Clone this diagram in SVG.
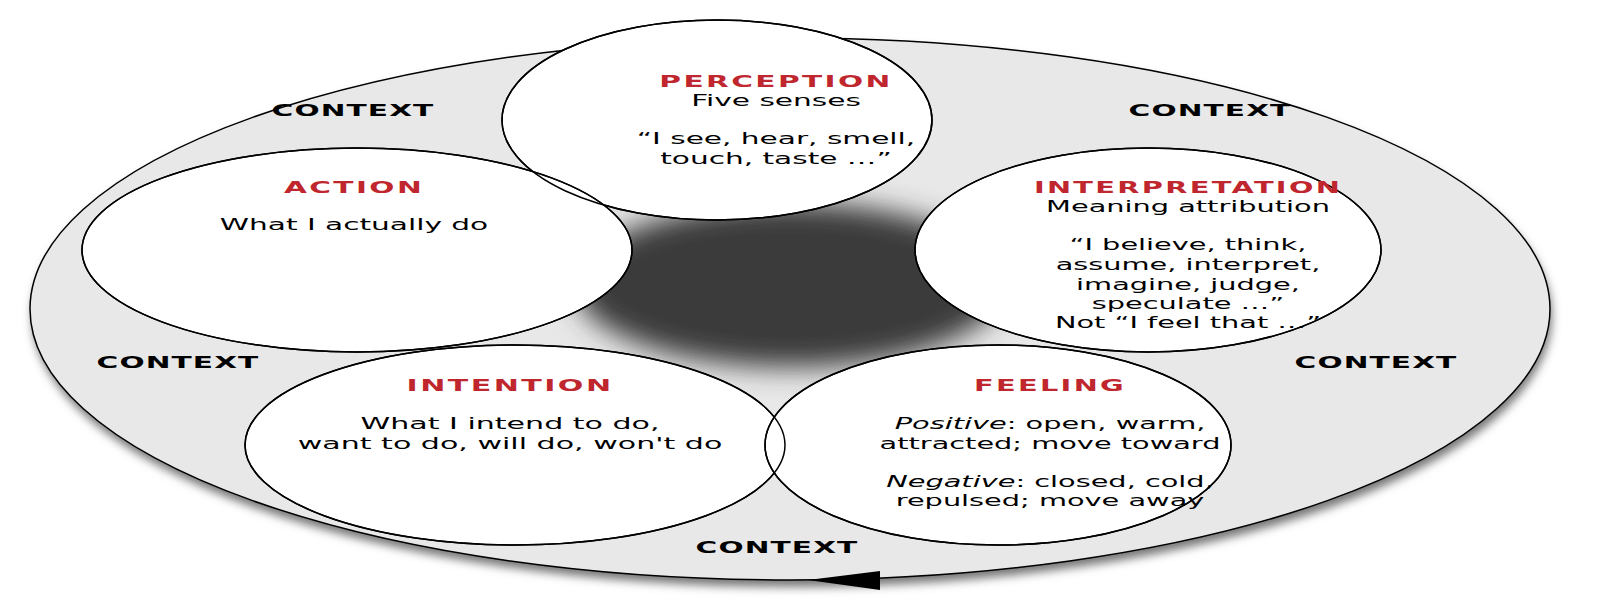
<svg xmlns="http://www.w3.org/2000/svg" width="1621" height="616" viewBox="0 0 1621 616">
<defs>
<filter id="blur" x="-50%" y="-50%" width="200%" height="200%"><feGaussianBlur stdDeviation="14"/></filter>
<filter id="sh" x="-10%" y="-10%" width="120%" height="130%"><feGaussianBlur stdDeviation="5"/></filter>
<style>
text{font-family:"DejaVu Sans",Verdana,sans-serif;font-size:16px;fill:#000;text-anchor:middle}
.t{font-weight:bold;fill:#c0262d;letter-spacing:1.3px}
.c{font-weight:bold;font-size:16px;letter-spacing:0.6px}
.n{fill:#fff;stroke:#000;stroke-width:1.5}
.o{fill:none;stroke:#000;stroke-width:1.5}
</style>
</defs>
<ellipse cx="792" cy="316" rx="760" ry="271" fill="#777" filter="url(#sh)"/>
<g id="context">
<ellipse cx="790" cy="309" rx="760" ry="271" fill="#e8e8e8" stroke="#000" stroke-width="1.5"/>
<g transform="translate(353,0) scale(1.85,1)"><text class="c" x="0" y="116">CONTEXT</text></g>
<g transform="translate(1210,0) scale(1.85,1)"><text class="c" x="0" y="116">CONTEXT</text></g>
<g transform="translate(178,0) scale(1.85,1)"><text class="c" x="0" y="368">CONTEXT</text></g>
<g transform="translate(1376,0) scale(1.85,1)"><text class="c" x="0" y="368">CONTEXT</text></g>
<g transform="translate(777,0) scale(1.85,1)"><text class="c" x="0" y="553">CONTEXT</text></g>
</g>
<ellipse cx="790" cy="285" rx="215" ry="82" fill="#3a3a3a" filter="url(#blur)"/>
<g id="connectors">
<polygon points="808,580 880,571 880,590" fill="#000"/>
</g>
<g id="fills">
<ellipse class="n" cx="717" cy="120" rx="215" ry="100"/>
<ellipse class="n" cx="357" cy="250" rx="275" ry="102"/>
<ellipse class="n" cx="1148" cy="250" rx="233" ry="102"/>
<ellipse class="n" cx="515" cy="445" rx="270" ry="100"/>
<ellipse class="n" cx="998" cy="445" rx="233" ry="100"/>
</g>
<g id="perception">
<ellipse class="o" cx="717" cy="120" rx="215" ry="100"/>
<g transform="translate(776,0) scale(1.85,1)">
<text class="t" x="0" y="87">PERCEPTION</text>
<text x="0" y="106">Five senses</text>
<text x="0" y="144">“I see, hear, smell,</text>
<text x="0" y="164">touch, taste …”</text>
</g>
</g>
<g id="action">
<ellipse class="o" cx="357" cy="250" rx="275" ry="102"/>
<g transform="translate(354,0) scale(1.85,1)">
<text class="t" x="0" y="193">ACTION</text>
<text x="0" y="230">What I actually do</text>
</g>
</g>
<g id="interpretation">
<ellipse class="o" cx="1148" cy="250" rx="233" ry="102"/>
<g transform="translate(1188,0) scale(1.8,1)">
<text class="t" x="0" y="193">INTERPRETATION</text>
<text x="0" y="212">Meaning attribution</text>
<text x="0" y="250">“I believe, think,</text>
<text x="0" y="270">assume, interpret,</text>
<text x="0" y="290">imagine, judge,</text>
<text x="0" y="309">speculate …”</text>
<text x="0" y="328">Not “I feel that …”</text>
</g>
</g>
<g id="intention">
<ellipse class="o" cx="515" cy="445" rx="270" ry="100"/>
<g transform="translate(510,0) scale(1.88,1)">
<text class="t" x="0" y="391">INTENTION</text>
<text x="0" y="429">What I intend to do,</text>
<text x="0" y="449">want to do, will do, won't do</text>
</g>
</g>
<g id="feeling">
<ellipse class="o" cx="998" cy="445" rx="233" ry="100"/>
<g transform="translate(1050,0) scale(1.8,1)">
<text class="t" x="0" y="391">FEELING</text>
<text x="0" y="429"><tspan font-style="italic">Positive</tspan>: open, warm,</text>
<text x="0" y="449">attracted; move toward</text>
<text x="0" y="487"><tspan font-style="italic">Negative</tspan>: closed, cold,</text>
<text x="0" y="506">repulsed; move away</text>
</g>
</g>
</svg>
